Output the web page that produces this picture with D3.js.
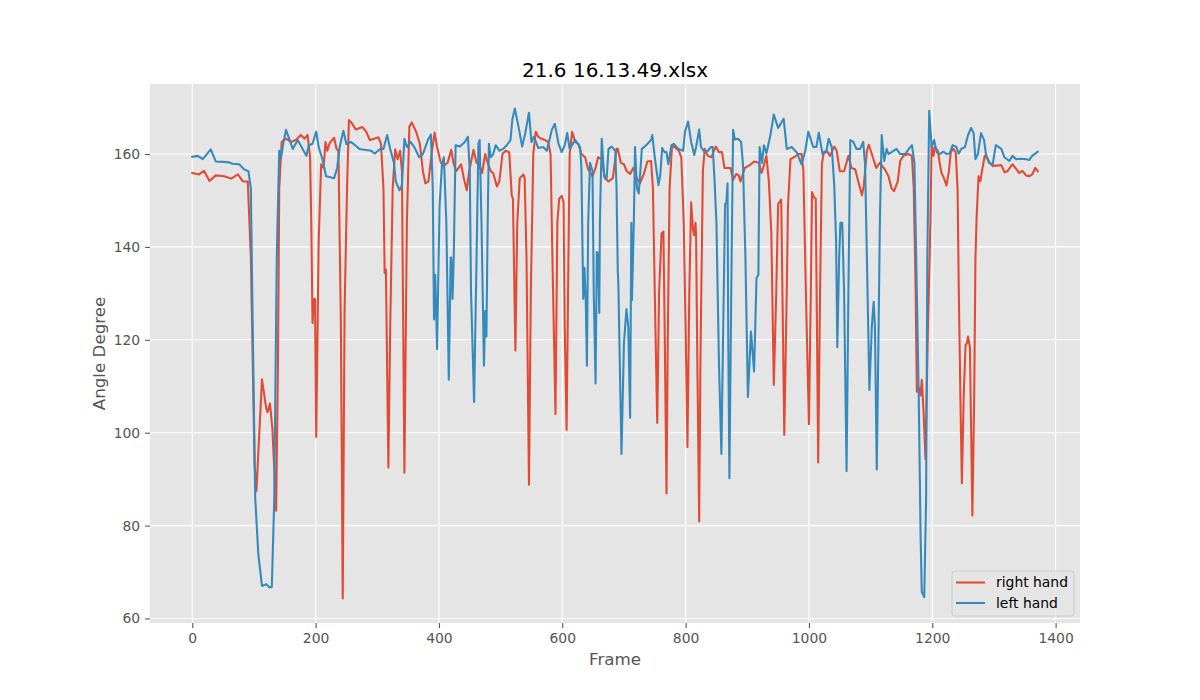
<!DOCTYPE html>
<html>
<head>
<meta charset="utf-8">
<script src="https://cdn.jsdelivr.net/npm/d3@7"></script>
<style>
  body { margin: 0; background: #ffffff; }
  text { font-family: "DejaVu Sans", sans-serif; }
</style>
</head>
<body>
<div id="chart"></div>
<script>
// angle readings per frame, [frame, degree]
var rightHand = [[0,155.9],[11,155.6],[19,156.4],[28,154.2],[38,155.4],[52,155.2],[63,154.7],[74,155.6],[82,154.1],[90,154.1],[95,137.8],[101,93.3],[104,87.4],[109,100.7],[113,111.5],[120,105.2],[122,104.4],[126,106.3],[130,100.7],[136,83.2],[139,115.5],[141,152.6],[145,162.6],[152,163.3],[160,162.6],[168,163],[176,164.1],[182,163.3],[187,164.1],[191,159.3],[193,145.2],[195,123.6],[197,128.8],[199,128.8],[201,99.1],[205,141.4],[209,157.8],[213,157],[216,162.6],[219,160.7],[223,162.4],[230,163.5],[234,161.1],[237,160.7],[241,122.9],[244,64.3],[247,126.6],[251,152.6],[254,167.3],[258,166.8],[265,165.3],[276,165.8],[282,164.8],[288,163],[295,163.3],[302,163.6],[306,162.2],[310,152.6],[312,134.4],[314,135.1],[318,92.5],[321,122.9],[325,152.6],[329,161],[333,158.9],[337,160.7],[340,156.3],[344,91.4],[348,145.2],[352,165.9],[356,166.8],[363,164.8],[369,162.2],[374,156.3],[378,153.7],[383,154.1],[388,160],[393,164.6],[397,161.5],[403,158.1],[408,157.4],[414,158.1],[420,160.9],[424,157.8],[428,156.3],[436,157.8],[440,155],[445,152.2],[449,156.3],[456,160.9],[461,158.1],[465,157.8],[470,155.9],[475,160],[479,158.1],[484,156.3],[488,155.9],[494,153],[498,154.1],[503,160],[508,160.7],[514,160.4],[518,151.1],[520,150.4],[524,117.7],[527,145.2],[531,154.8],[537,155.6],[539,154.8],[542,137.7],[546,88.8],[549,130.3],[553,160],[557,164.8],[561,163.7],[566,163.3],[572,163],[577,162.6],[581,160],[584,137.7],[589,104],[592,145.2],[595,150.4],[599,151],[602,149.6],[604,122.9],[607,100.6],[610,137.7],[612,160],[616,164.8],[621,162.6],[626,162.2],[631,160],[637,159.3],[642,156.7],[649,155.2],[654,157],[658,159.3],[664,158.9],[669,154.8],[675,154.1],[682,154.8],[688,161.1],[690,161.1],[695,158.1],[700,157.8],[704,156.4],[710,155.7],[715,157],[721,154.8],[726,153.7],[732,155.6],[738,158.4],[744,158.5],[747,152.6],[751,122.9],[754,102.1],[757,130.3],[761,142.9],[764,143.3],[766,122.9],[769,86.9],[771,119.2],[774,152.6],[778,161.9],[782,161.5],[789,160.7],[793,159.3],[797,145.2],[800,122.9],[803,96.9],[806,130.3],[809,149.6],[812,143.7],[814,142.5],[816,145.2],[817,142.4],[819,115.5],[822,80.9],[824,115.5],[828,156.3],[831,161.1],[836,159.6],[842,159.3],[845,160.4],[849,161.6],[854,160.4],[859,160.4],[863,157],[869,157],[873,157],[877,154.4],[882,155.7],[886,155.4],[889,154.1],[896,157],[904,157.6],[911,158.4],[919,158.1],[923,155.9],[927,157.6],[931,159.6],[935,154.1],[939,142.9],[943,110.3],[947,130.3],[950,149.2],[955,150.2],[957,130.3],[960,99.5],[964,130.3],[966,148.9],[970,158.9],[976,159.3],[983,160],[988,160],[991,156.3],[995,130.3],[1000,101.8],[1003,130.3],[1005,151.8],[1008,150.7],[1011,150.4],[1013,122.9],[1015,93.6],[1018,130.3],[1021,157.8],[1024,160.4],[1029,160.7],[1034,159.6],[1041,161.6],[1045,160.7],[1050,156.3],[1057,156.3],[1064,159.6],[1069,157],[1075,156.7],[1080,154.1],[1086,151.1],[1089,153.3],[1094,160.7],[1097,162],[1102,160],[1109,157],[1115,158.1],[1123,156.7],[1129,155.2],[1134,152.6],[1138,152],[1144,154.1],[1148,158.5],[1153,159.6],[1161,160],[1167,159.6],[1170,152.6],[1173,130.3],[1175,108.8],[1179,109.5],[1181,108],[1183,111.4],[1186,104.3],[1189,94.3],[1193,122.9],[1197,145.2],[1199,161.9],[1202,159.6],[1204,161.5],[1209,160.7],[1212,158.1],[1215,155.9],[1219,154.8],[1223,153.2],[1227,156.3],[1230,160.4],[1234,161.1],[1238,160.4],[1241,152.6],[1243,130.3],[1246,104.3],[1248,89.1],[1251,108],[1254,118.9],[1256,119.2],[1258,120.7],[1261,118.4],[1263,100.6],[1265,82.2],[1268,108],[1270,137.7],[1272,146.6],[1275,155.2],[1278,154.1],[1280,155.9],[1285,159.6],[1289,159.1],[1293,158.1],[1298,157.4],[1303,157.5],[1312,157.6],[1317,156.1],[1322,156.3],[1330,157.8],[1336,156.8],[1341,155.9],[1346,156.4],[1352,155.4],[1357,155.2],[1362,155.6],[1367,157],[1371,156.3]];

var leftHand = [[0,159.4],[9,159.6],[17,158.9],[30,161],[38,158.4],[50,158.3],[60,158.2],[65,157.9],[76,157.8],[84,156.7],[91,156.3],[95,152.6],[98,123],[102,86.2],[107,74],[113,67],[120,67.4],[125,66.7],[129,66.8],[133,86],[137,137.8],[141,160.7],[144,159.3],[148,162.6],[152,165.2],[158,163],[163,161.1],[171,163],[179,161.1],[185,159.6],[189,161.9],[195,162.2],[201,164.8],[205,161.5],[211,158.9],[217,155.2],[230,154.8],[235,157],[239,161.5],[245,165],[250,162.1],[257,162.6],[264,161.9],[271,161.1],[290,160.7],[296,160.1],[305,161.1],[310,161.1],[316,164.1],[321,161.1],[327,158.1],[330,154.1],[336,152.2],[340,153.3],[344,163.3],[348,161.5],[354,162.6],[360,161.5],[368,159.3],[374,160],[382,163],[387,164.2],[390,152.6],[392,124.4],[394,134],[396,123.6],[397,118],[401,148.9],[405,157.8],[408,159.3],[412,145.2],[416,111.4],[419,137.7],[420,137.7],[422,128.8],[424,137.7],[427,161.9],[434,161.6],[442,162.6],[447,163.7],[450,156.3],[452,130.3],[457,106.6],[461,137.7],[464,162.2],[466,163],[469,145.2],[473,114.4],[475,126.2],[477,120.7],[479,145.2],[481,162.2],[484,159.3],[488,160],[492,161.9],[498,160.7],[504,161.1],[510,161.9],[516,163],[519,167.4],[523,169.8],[529,165.9],[535,161.6],[540,164.5],[546,168.9],[550,162.6],[554,163.7],[561,161.3],[569,161.5],[575,160.7],[583,165.2],[588,166.5],[594,162.2],[599,160.4],[604,161.9],[608,164.5],[612,161.1],[621,163],[629,161.5],[631,157],[634,128.8],[636,135.5],[638,128.8],[640,114.4],[642,145.2],[645,158.1],[649,156.3],[651,130.3],[654,110.6],[656,138.9],[658,138.5],[660,125.8],[661,145.2],[664,163.3],[668,155.2],[672,154.8],[675,161.1],[680,161.6],[686,160.7],[688,152.6],[690,134.8],[691,131.8],[696,95.4],[700,119.2],[704,126.6],[707,122.9],[710,103.2],[712,145.2],[713,128.5],[716,145.2],[718,161.5],[721,152.6],[724,151.5],[727,157],[729,161.1],[736,161.9],[744,163],[746,164.1],[750,159.3],[756,153.3],[759,155.6],[762,161.3],[766,160.4],[769,160.4],[772,157.8],[777,161.9],[781,162.2],[788,161.1],[796,160.7],[799,164.8],[804,167],[809,162.6],[814,159.8],[817,161.5],[822,165.3],[825,161.5],[831,160.4],[836,160.7],[841,161.5],[844,161.5],[847,154.1],[850,145.2],[854,115.5],[858,95.4],[861,122.9],[864,149.2],[866,149.5],[868,153.7],[869,122.9],[871,90.2],[874,130.3],[877,165.2],[880,163.1],[885,163.3],[890,162.6],[893,157.8],[897,137.7],[901,107.7],[906,121.8],[911,113.2],[915,133.3],[918,134],[920,161.5],[924,158.1],[927,161.9],[931,160.1],[937,163.7],[943,168.5],[950,165.6],[959,167.6],[964,161.1],[972,161.5],[980,160.4],[988,157.8],[994,160.7],[999,164.8],[1007,161.5],[1012,161.5],[1016,164.6],[1022,160],[1028,160.4],[1032,163.3],[1037,161.5],[1041,153.3],[1044,141.4],[1046,118.4],[1049,137.7],[1051,145.2],[1054,145.2],[1057,130.3],[1061,91.7],[1064,130.3],[1067,163],[1072,162.6],[1077,161.1],[1083,161.1],[1088,162.6],[1091,157.8],[1094,137.7],[1098,109.2],[1102,122.9],[1105,128.2],[1107,122.9],[1110,92.1],[1113,122.9],[1115,145.2],[1118,164.1],[1122,158.5],[1126,161.1],[1129,160],[1134,160.4],[1142,161.1],[1148,160],[1156,160],[1162,161.1],[1167,161.9],[1171,158.1],[1174,137.7],[1178,108],[1181,78.3],[1183,65.7],[1187,64.6],[1190,85.8],[1192,137.7],[1195,169.3],[1199,161.5],[1203,163],[1207,160.4],[1212,160],[1218,160.5],[1223,160],[1228,160.1],[1233,161.9],[1239,161.5],[1243,160.1],[1247,161.1],[1253,161.5],[1258,164.1],[1263,165.6],[1267,164.5],[1270,158.9],[1274,160],[1279,164.5],[1284,163],[1287,160],[1292,158.1],[1298,157.8],[1303,161.9],[1312,161.1],[1317,159.3],[1325,158.5],[1330,159.6],[1336,158.9],[1344,159],[1352,158.9],[1357,158.7],[1362,159.6],[1371,160.5]];

var xTicks = [0, 200, 400, 600, 800, 1000, 1200, 1400];
var yTicks = [60, 80, 100, 120, 140, 160];
var seriesNames = ["right hand", "left hand"];
var seriesColors = ["#E24A33", "#348ABD"];

var width = 1200, height = 700;
var margin = {top: 84, right: 120, bottom: 77, left: 150};

var svg = d3.select("#chart").append("svg")
    .attr("width", width)
    .attr("height", height);

svg.append("rect").attr("width", width).attr("height", height).attr("fill", "#ffffff");

var plotW = width - margin.left - margin.right;
var plotH = height - margin.top - margin.bottom;

var g = svg.append("g").attr("transform", "translate(" + margin.left + "," + margin.top + ")");

// matplotlib style 5% padding around the data
var allData = rightHand.concat(leftHand);
var xExt = d3.extent(allData, d => d[0]);
var yExt = d3.extent(allData, d => d[1]);
var xPad = (xExt[1] - xExt[0]) * 0.05;
var yPad = (yExt[1] - yExt[0]) * 0.05;

var x = d3.scaleLinear().domain([xExt[0] - xPad, xExt[1] + xPad]).range([0, plotW]);
var y = d3.scaleLinear().domain([yExt[0] - yPad, yExt[1] + yPad]).range([plotH, 0]);

g.append("rect").attr("width", plotW).attr("height", plotH).attr("fill", "#E5E5E5");

// grid
g.selectAll(".xgrid").data(xTicks.filter(t => x(t) <= plotW)).enter().append("line")
    .attr("x1", d => x(d)).attr("x2", d => x(d))
    .attr("y1", 0).attr("y2", plotH)
    .attr("stroke", "#ffffff").attr("stroke-width", 1.1);
g.selectAll(".ygrid").data(yTicks).enter().append("line")
    .attr("x1", 0).attr("x2", plotW)
    .attr("y1", d => y(d)).attr("y2", d => y(d))
    .attr("stroke", "#ffffff").attr("stroke-width", 1.1);

// axes
var xAxis = d3.axisBottom(x).tickValues(xTicks).tickFormat(d3.format("d")).tickSize(4.9).tickPadding(4.9);
var yAxis = d3.axisLeft(y).tickValues(yTicks).tickFormat(d3.format("d")).tickSize(4.9).tickPadding(4.9);

var gx = g.append("g").attr("transform", "translate(0," + plotH + ")").call(xAxis);
var gy = g.append("g").call(yAxis);
[gx, gy].forEach(function(a){
    a.select(".domain").remove();
    a.selectAll(".tick line").attr("stroke", "#555555").attr("stroke-width", 1.1);
    a.selectAll(".tick text").attr("fill", "#555555")
        .style("font-family", "DejaVu Sans, sans-serif").style("font-size", "13.9px");
});

// lines
var line = d3.line().x(d => x(d[0])).y(d => y(d[1]));
var clip = g.append("clipPath").attr("id", "clip").append("rect").attr("width", plotW).attr("height", plotH);

[rightHand, leftHand].forEach(function(series, i){
    g.append("path")
        .datum(series)
        .attr("clip-path", "url(#clip)")
        .attr("fill", "none")
        .attr("stroke", seriesColors[i])
        .attr("stroke-width", 2.08)
        .attr("stroke-linejoin", "round")
        .attr("stroke-linecap", "square")
        .attr("d", line);
});

// title and labels
svg.append("text")
    .attr("x", margin.left + plotW / 2).attr("y", 77)
    .attr("text-anchor", "middle")
    .attr("fill", "#000000")
    .style("font-size", "20px")
    .text("21.6 16.13.49.xlsx");

svg.append("text")
    .attr("x", margin.left + plotW / 2).attr("y", 665)
    .attr("text-anchor", "middle")
    .attr("fill", "#555555")
    .style("font-size", "16.7px")
    .text("Frame");

svg.append("text")
    .attr("transform", "translate(105," + (margin.top + plotH / 2) + ") rotate(-90)")
    .attr("text-anchor", "middle")
    .attr("fill", "#555555")
    .style("font-size", "16.7px")
    .text("Angle Degree");

// legend
var legend = g.append("g").attr("transform", "translate(" + (plotW - 128) + "," + (plotH - 52) + ")");
legend.append("rect")
    .attr("width", 122).attr("height", 45)
    .attr("rx", 3).attr("ry", 3)
    .attr("fill", "#E5E5E5").attr("fill-opacity", 0.8)
    .attr("stroke", "#cccccc").attr("stroke-width", 1);
seriesNames.forEach(function(name, i){
    var ly = 11.5 + i * 20.5;
    legend.append("line")
        .attr("x1", 4).attr("x2", 33)
        .attr("y1", ly).attr("y2", ly)
        .attr("stroke", seriesColors[i]).attr("stroke-width", 2.08);
    legend.append("text")
        .attr("x", 44).attr("y", ly + 4.8)
        .attr("fill", "#000000")
        .style("font-size", "13.9px")
        .text(name);
});
</script>
</body>
</html>
